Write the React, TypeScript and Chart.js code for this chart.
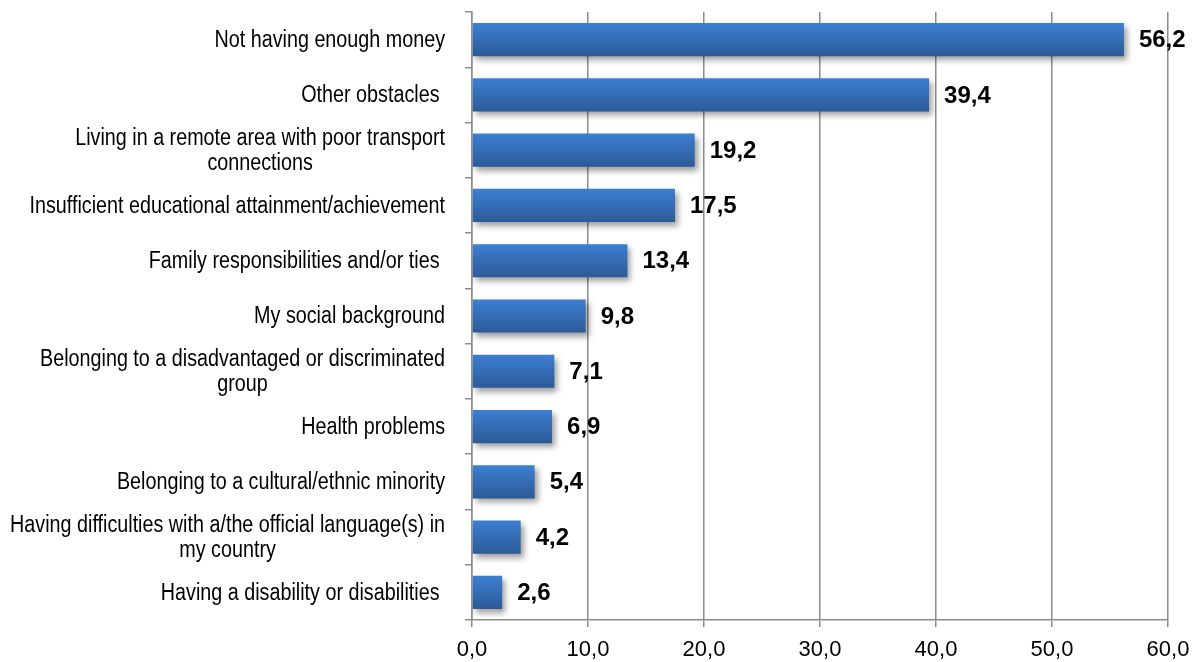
import React, { useEffect, useRef } from "react";
import { Chart, registerables } from "chart.js";

Chart.register(...registerables);

const categories: string[][] = [
  ["Not having enough money"],
  ["Other obstacles "],
  ["Living in a remote area with poor transport", "connections"],
  ["Insufficient educational attainment/achievement"],
  ["Family responsibilities and/or ties "],
  ["My social background"],
  ["Belonging to a disadvantaged or discriminated", "group"],
  ["Health problems"],
  ["Belonging to a cultural/ethnic minority"],
  ["Having difficulties with a/the official language(s) in", "my country"],
  ["Having a disability or disabilities "],
];

const values: number[] = [56.2, 39.4, 19.2, 17.5, 13.4, 9.8, 7.1, 6.9, 5.4, 4.2, 2.6];

const xTickValues: number[] = [0, 10, 20, 30, 40, 50, 60];

const fmt = (v: number) => v.toFixed(1).replace(".", ",");

const GRID = "#8c8c8c";
const FONT = "'Liberation Sans', Arial, sans-serif";

export default function App() {
  const ref = useRef<HTMLCanvasElement | null>(null);

  useEffect(() => {
    const canvas = ref.current;
    if (!canvas) return;

    const shadowPlugin = {
      id: "barShadow",
      beforeDatasetsDraw(chart: any) {
        const ctx = chart.ctx;
        ctx.save();
        ctx.shadowColor = "rgba(0,0,0,0.38)";
        ctx.shadowBlur = 6;
        ctx.shadowOffsetX = 3;
        ctx.shadowOffsetY = 4;
      },
      afterDatasetsDraw(chart: any) {
        chart.ctx.restore();
      },
    };

    const labelsPlugin = {
      id: "customLabels",
      afterDraw(chart: any) {
        const ctx = chart.ctx;
        const yScale = chart.scales.y;
        const meta = chart.getDatasetMeta(0);
        ctx.save();
        ctx.font = `bold 24px ${FONT}`;
        ctx.fillStyle = "#000";
        ctx.textAlign = "left";
        ctx.textBaseline = "middle";
        meta.data.forEach((el: any, i: number) => {
          ctx.fillText(fmt(values[i]), el.x + 15, el.y + 1);
        });
        ctx.restore();

        const sx = 0.84;
        const lineH = 25;
        const right = 445;
        ctx.save();
        ctx.font = `23.5px ${FONT}`;
        ctx.fillStyle = "#000";
        ctx.textAlign = "center";
        ctx.textBaseline = "middle";
        categories.forEach((lines, i) => {
          const cy = yScale.getPixelForValue(i);
          const full = lines.map((l) => ctx.measureText(l).width * sx);
          const maxW = Math.max(...full);
          const cx = right - maxW / 2;
          lines.forEach((line, j) => {
            const y = cy + (j - (lines.length - 1) / 2) * lineH + 1;
            ctx.save();
            ctx.translate(cx, y);
            ctx.scale(sx, 1);
            ctx.fillText(line, 0, 0);
            ctx.restore();
          });
        });
        ctx.restore();
      },
    };

    const chart = new Chart(canvas, {
      type: "bar",
      data: {
        labels: categories.map((c) => c.join(" ")),
        datasets: [
          {
            data: values,
            barPercentage: 0.6,
            categoryPercentage: 1.0,
            borderWidth: 0,
            backgroundColor: (c: any) => {
              const ch = c.chart;
              const y = ch.scales?.y;
              if (!y || c.dataIndex === undefined) return "#3568b3";
              const center = y.getPixelForValue(c.dataIndex);
              const half = ((y.bottom - y.top) / categories.length) * 0.3;
              if (!isFinite(center) || !isFinite(half) || half <= 0) return "#3568b3";
              const g = ch.ctx.createLinearGradient(0, center - half, 0, center + half);
              g.addColorStop(0, "#3d7fd2");
              g.addColorStop(1, "#2c5a97");
              return g;
            },
          },
        ],
      },
      options: {
        indexAxis: "y",
        animation: false,
        responsive: true,
        maintainAspectRatio: false,
        layout: { padding: { top: 12, right: 32, left: 0, bottom: 0 } },
        plugins: {
          legend: { display: false },
          tooltip: { enabled: false },
        },
        scales: {
          x: {
            min: 0,
            max: 60,
            afterBuildTicks: (scale: any) => {
              scale.ticks = xTickValues.map((v) => ({ value: v }));
            },
            afterFit: (scale: any) => {
              scale.height = 42;
            },
            ticks: {
              color: "#000",
              font: { family: FONT, size: 22 },
              padding: 10,
              maxRotation: 0,
              callback: (v: any) => fmt(Number(v)),
            },
            grid: {
              color: GRID,
              lineWidth: 1.5,
              drawTicks: true,
              tickLength: 7,
            },
            border: { display: true, color: GRID, width: 1.5 },
          },
          y: {
            afterFit: (scale: any) => {
              scale.width = 472;
            },
            ticks: { display: false },
            grid: {
              display: true,
              drawOnChartArea: false,
              drawTicks: true,
              tickLength: 7,
              color: GRID,
              lineWidth: 1.5,
              offset: true,
            },
            border: { display: true, color: GRID, width: 1.5 },
          },
        },
      },
      plugins: [shadowPlugin, labelsPlugin],
    } as any);

    return () => chart.destroy();
  }, []);

  return (
    <div style={{ position: "absolute", left: 0, top: 0, width: 1200, height: 662 }}>
      <canvas ref={ref} />
    </div>
  );
}
